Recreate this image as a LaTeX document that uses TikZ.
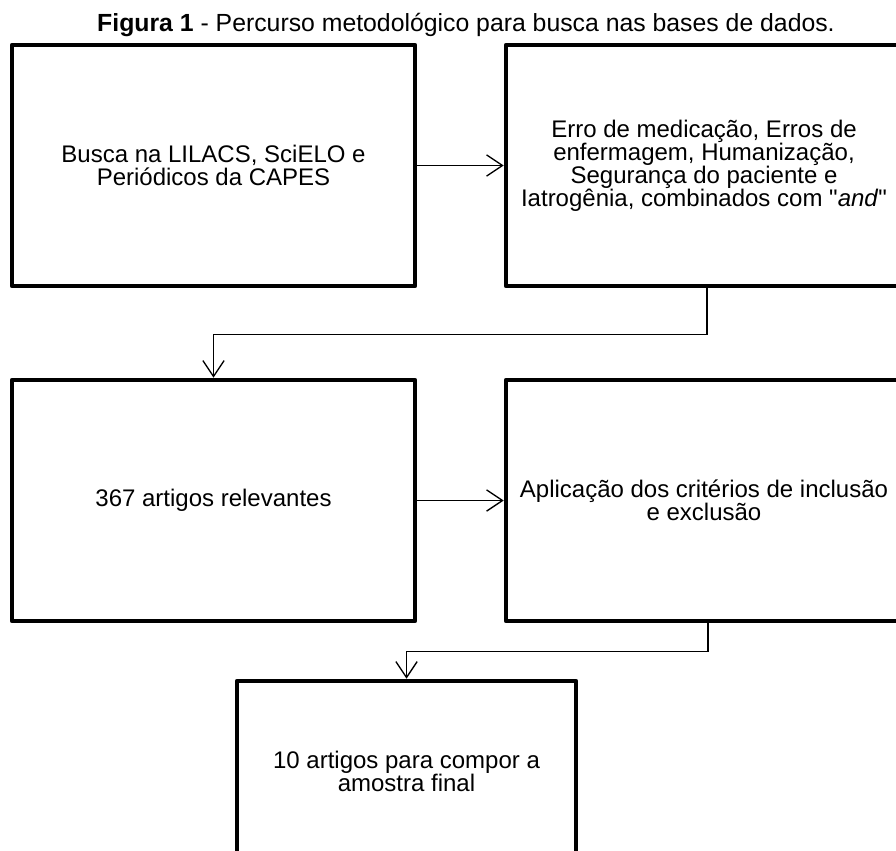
\documentclass[tikz,border=0pt]{standalone}
\usepackage{fontspec}
\setmainfont{Liberation Sans}[Ligatures=TeXOff]
\usetikzlibrary{arrows.meta,positioning}

\begin{document}
\begin{tikzpicture}[x=0.75pt, y=-0.75pt, >={Straight Barb[length=12pt,width=16pt]},
    caixa/.style={draw, line width=3.4pt, line join=round, align=center,
        font=\fontsize{18}{17.25}\selectfont, minimum height=180.75pt},
    ligacao/.style={->, line width=1pt}]
    \useasboundingbox (0,0) rectangle (896,850);
    \clip (0,0) rectangle (896,850);

    \node[anchor=base, font=\fontsize{18.6}{20}\selectfont] (titulo) at (466,31)
        {\textbf{Figura 1} - Percurso metodológico para busca nas bases de dados.};

    \node[caixa, minimum width=302.25pt] (busca) at (213.5,165.5)
        {Busca na LILACS, SciELO e\\Periódicos da CAPES};
    \node[caixa, minimum width=297pt] (descritores) at (704,165.5)
        {Erro de medicação, Erros de\\enfermagem, Humanização,\\Segurança do paciente e\\Iatrogênia, combinados com "\textit{and}"};
    \node[caixa, minimum width=302.25pt] (relevantes) at (213.5,500.5)
        {367 artigos relevantes};
    \node[caixa, minimum width=297pt] (criterios) at (704,500.5)
        {Aplicação dos critérios de inclusão\\e exclusão};
    \node[caixa, minimum width=254.25pt, minimum height=135pt] (amostra) at (406.5,771)
        {10 artigos para compor a\\amostra final};

    \draw[ligacao] (busca) -- (descritores);
    \draw[ligacao] (relevantes) -- (criterios);
    \draw[ligacao] ([xshift=2.25pt]descritores.south) -- ++(0,46) -| (relevantes.north);
    \draw[ligacao] ([xshift=3pt]criterios.south) -- ++(0,28) -| (amostra.north);
\end{tikzpicture}
\end{document}
